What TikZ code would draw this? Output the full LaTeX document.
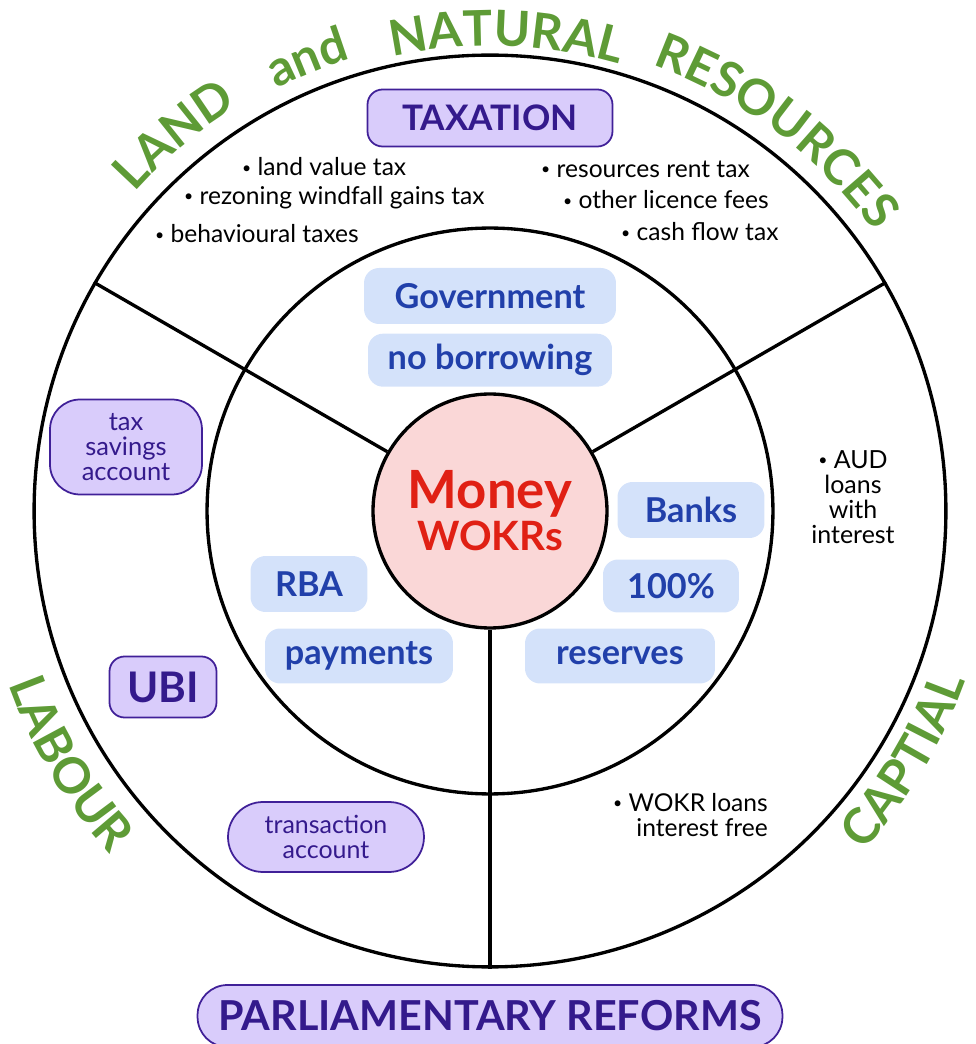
\documentclass[tikz,border=0pt]{standalone}
\usepackage{fontspec}
\setmainfont{Lato}
\usepackage{tikz}
\usetikzlibrary{positioning,decorations.text}

\definecolor{landgreen}{RGB}{94,155,54}
\definecolor{lilac}{RGB}{217,204,251}
\definecolor{lilacline}{RGB}{64,32,152}
\definecolor{lilactext}{RGB}{52,26,140}
\definecolor{skyfill}{RGB}{212,226,250}
\definecolor{skytext}{RGB}{33,64,170}
\definecolor{moneyfill}{RGB}{250,215,215}
\definecolor{moneyred}{RGB}{224,32,20}

\newcommand\arcfont{\fontsize{28}{28}\selectfont\bfseries}
\newcommand\dotb{\raisebox{1.6pt}{\fontsize{9}{9}\selectfont\textbullet}\ }

\begin{document}
\begin{tikzpicture}[
  x=0.02cm, y=0.02cm, font=\fontsize{14}{14.5}\selectfont,
  ring/.style={draw,circle,line width=1.9pt,inner sep=0pt},
  spoke/.style={line width=1.9pt},
  pbox/.style={draw=lilacline,fill=lilac,text=lilactext,line width=1pt,
    rounded corners=0.3cm,inner sep=0pt,align=center},
  sbox/.style={fill=skyfill,text=skytext,rounded corners=0.3cm,inner sep=0pt,
    minimum height=1.1cm,font=\fontsize{19.5}{22}\selectfont\bfseries},
  arcword/.style={decorate,decoration={text along path,text align=center,
    text color=landgreen,text={|\arcfont|#1}}}
]
\useasboundingbox (-490,-533) rectangle (486,511);

% rings and spokes
\node[ring,minimum size=18.24cm] (outer) at (0,0) {};
\node[ring,minimum size=11.32cm] (mid) at (0,0) {};
\node[ring,fill=moneyfill,minimum size=4.68cm,align=center,text=moneyred,
  font=\fontsize{23}{25}\selectfont\bfseries] (money) at (0,0)
  {{\fontsize{30}{30}\selectfont Money}\\[-1pt]WOKRs};
\draw[spoke] (money.150) -- (outer.150);
\draw[spoke] (money.30) -- (outer.30);
\draw[spoke] (money.270) -- (outer.270);

% words round the rim
\path[arcword=LAND] (150:477) arc[start angle=150,end angle=110,radius=477];
\path[arcword=and] (132:473) arc[start angle=132,end angle=92,radius=473];
\path[arcword=NATURAL] (113:465) arc[start angle=113,end angle=63,radius=465];
\path[arcword=RESOURCES] (83:475) arc[start angle=83,end angle=23,radius=475];
\path[arcword=LABOUR] (186:512) arc[start angle=186,end angle=236,radius=512];
\path[arcword=CAPTIAL] (304:505) arc[start angle=304,end angle=354,radius=505];

% taxation
\node[pbox,minimum width=4.9cm,minimum height=1.14cm,
  font=\fontsize{20}{22}\selectfont\bfseries] (tax) at (0,393) {TAXATION};
\node[anchor=west] (lvt) at (-254,344) {\dotb land value tax};
\node[anchor=west] (rwg) at (-312,313) {\dotb rezoning windfall gains tax};
\node[anchor=west] (beh) at (-341,277) {\dotb behavioural taxes};
\node[anchor=west] (rrt) at (45,342) {\dotb resources rent tax};
\node[anchor=west] (olf) at (67,311) {\dotb other licence fees};
\node[anchor=west] (cft) at (125,279) {\dotb cash flow tax};

% middle ring
\node[sbox,minimum width=5.04cm,minimum height=1.12cm] (gov) at (0,215) {Government};
\node[sbox,minimum width=4.88cm,minimum height=1.06cm,below=0.18cm of gov] (nobor) {no borrowing};
\node[sbox,minimum width=2.94cm,minimum height=1.12cm] (banks) at (201,1) {Banks};
\node[sbox,minimum width=2.72cm,minimum height=1.06cm] (full) at (181,-75) {100\%};
\node[sbox,minimum width=3.8cm] (res) at (130,-145) {reserves};
\node[sbox,minimum width=2.34cm,minimum height=1.12cm] (rba) at (-181,-73) {RBA};
\node[sbox,minimum width=3.76cm] (pay) at (-131,-145) {payments};

% outer ring
\node[pbox,minimum width=3.04cm,minimum height=1.9cm,rounded corners=0.6cm,
  font=\fontsize{14.5}{14.3}\selectfont] (tsa) at (-364,64) {tax\\savings\\account};
\node[pbox,minimum width=2.14cm,minimum height=1.22cm,
  font=\fontsize{24}{26}\selectfont\bfseries] (ubi) at (-327,-176) {UBI};
\node[pbox,minimum width=3.92cm,minimum height=1.4cm,rounded corners=0.7cm,
  font=\fontsize{14.2}{14.3}\selectfont] (tra) at (-164,-326) {transaction\\account};
\node[align=center,font=\fontsize{14.2}{14.3}\selectfont] (aud) at (363,14)
  {\dotb AUD\\loans\\with\\interest};
\node[align=right,anchor=east,font=\fontsize{14}{14.3}\selectfont] (wokr) at (284,-304)
  {\dotb WOKR loans\\interest free};

% bottom
\node[pbox,minimum width=11.7cm,minimum height=1.24cm,rounded corners=0.6cm,
  font=\fontsize{23.5}{25}\selectfont\bfseries] (parl) at (0,-505) {PARLIAMENTARY REFORMS};
\end{tikzpicture}
\end{document}
